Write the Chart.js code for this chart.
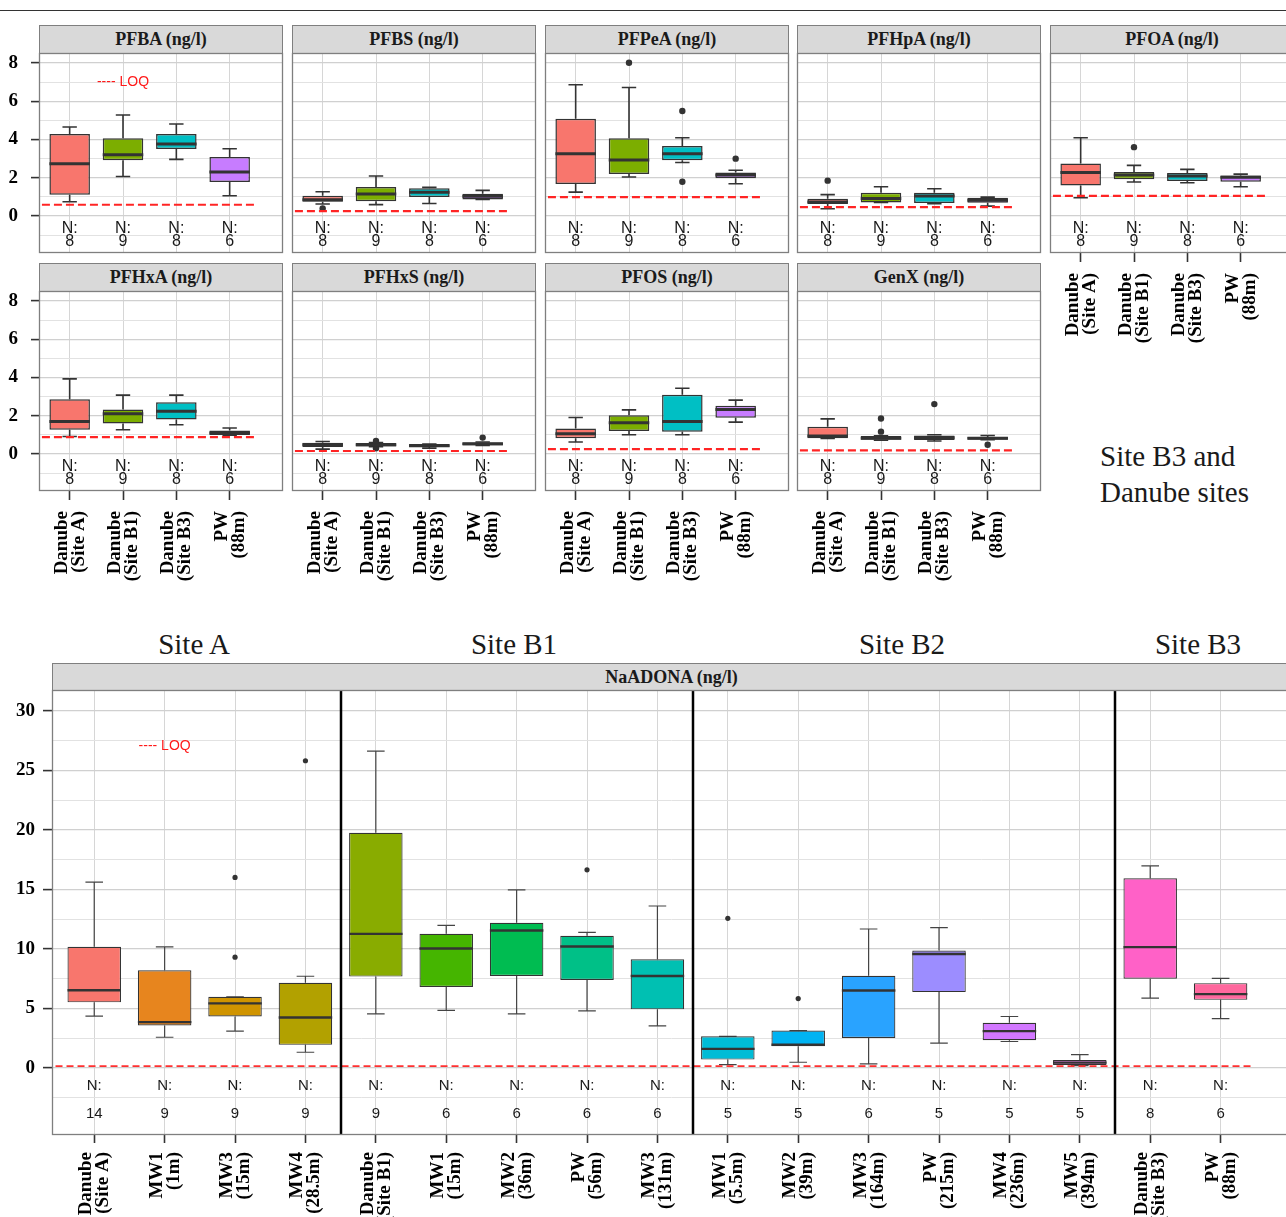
<!DOCTYPE html>
<html>
<head>
<meta charset="utf-8">
<title>PFAS concentrations by sampling point</title>
<script src="https://cdn.jsdelivr.net/npm/chart.js@4.4.1/dist/chart.umd.min.js"></script>
<style>
  html, body { margin: 0; padding: 0; background: #fff; }
  #page { position: relative; width: 1286px; height: 1217px; overflow: hidden; background: #fff; }
  #page canvas { position: absolute; }
  .strip { position: absolute; box-sizing: border-box; background: #d9d9d9; border: 1px solid #7f7f7f;
           font: bold 18px "Liberation Serif", "Times New Roman", serif; color: #1a1a1a;
           display: flex; align-items: center; justify-content: center; white-space: nowrap; }
  .site { position: absolute; font: 29px "Liberation Serif", "Times New Roman", serif; color: #1a1a1a;
          line-height: 29px; transform: translateX(-50%); white-space: nowrap; }
  .note { position: absolute; font: 29px "Liberation Serif", "Times New Roman", serif; color: #1a1a1a;
          line-height: 36px; white-space: nowrap; }
  .rule { position: absolute; left: 0; top: 10px; width: 1286px; height: 1px; background: #333; }
</style>
</head>
<body>
<div id="page"><div class="rule"></div></div>
<script>
// ---------- Danube sites and PW (88m): box statistics ----------
// each row: [lower whisker, Q1, median, Q3, upper whisker]
const TOP_GROUPS = [['Danube', '(Site A)'], ['Danube', '(Site B1)'], ['Danube', '(Site B3)'], ['PW', '(88m)']];
const TOP_N = [8, 9, 8, 6];
const TOP_COLORS = ['#F8766D', '#7CAE00', '#00BFC4', '#C77CFF'];

const PFBA  = [[0.75, 1.11, 2.73, 4.29, 4.65], [2.07, 2.91, 3.20, 4.06, 5.28], [2.96, 3.50, 3.76, 4.29, 4.81], [1.06, 1.78, 2.30, 3.08, 3.52]];
const PFBS  = [[0.63, 0.75, 0.85, 1.06, 1.27], [0.60, 0.77, 1.15, 1.52, 2.09], [0.66, 0.99, 1.24, 1.45, 1.50], [0.87, 0.87, 1.03, 1.17, 1.34]];
const PFPeA = [[1.25, 1.67, 3.26, 5.09, 6.86], [2.04, 2.20, 2.93, 4.06, 6.72], [2.80, 2.91, 3.26, 3.66, 4.09], [1.69, 1.97, 2.14, 2.28, 2.39]];
const PFHpA = [[0.38, 0.63, 0.73, 0.90, 1.12], [0.71, 0.71, 0.92, 1.22, 1.53], [0.64, 0.68, 1.05, 1.22, 1.43], [0.52, 0.70, 0.82, 0.96, 0.99]];
const PFOA  = [[0.96, 1.60, 2.27, 2.75, 4.09], [1.78, 1.92, 2.14, 2.30, 2.65], [1.74, 1.83, 2.09, 2.25, 2.44], [1.53, 1.79, 2.03, 2.12, 2.19]];
const PFHxA = [[0.92, 1.27, 1.70, 2.87, 3.93], [1.27, 1.60, 2.10, 2.33, 3.08], [1.53, 1.81, 2.24, 2.71, 3.08], [0.99, 0.99, 1.10, 1.23, 1.36]];
const PFHxS = [[0.26, 0.37, 0.49, 0.59, 0.66], [0.38, 0.40, 0.49, 0.58, 0.60], [0.31, 0.37, 0.43, 0.52, 0.52], [0.45, 0.45, 0.54, 0.61, 0.63]];
const PFOS  = [[0.63, 0.82, 1.06, 1.34, 1.91], [1.01, 1.20, 1.63, 2.03, 2.31], [1.01, 1.17, 1.70, 3.10, 3.44], [1.67, 1.90, 2.33, 2.52, 2.82]];
const GenX  = [[0.82, 0.82, 0.94, 1.43, 1.84], [0.72, 0.75, 0.83, 0.94, 0.95], [0.68, 0.73, 0.85, 0.97, 1.01], [0.75, 0.75, 0.83, 0.89, 0.97]];

// outlying values per group
const PFBA_OUT  = [[], [], [], []];
const PFBS_OUT  = [[0.40], [], [], []];
const PFPeA_OUT = [[], [8.01], [5.49, 1.79], [3.00]];
const PFHpA_OUT = [[1.85], [], [], []];
const PFOA_OUT  = [[], [3.60], [], []];
const PFHxA_OUT = [[], [], [], []];
const PFHxS_OUT = [[], [0.68, 0.30], [], [0.86]];
const PFOS_OUT  = [[], [], [], []];
const GenX_OUT  = [[], [1.86, 1.17], [2.61], [0.49]];

const TOP_NAMES = ['PFBA (ng/l)', 'PFBS (ng/l)', 'PFPeA (ng/l)', 'PFHpA (ng/l)', 'PFOA (ng/l)',
                   'PFHxA (ng/l)', 'PFHxS (ng/l)', 'PFOS (ng/l)', 'GenX (ng/l)'];
const TOP_LOQ = [0.59, 0.26, 0.99, 0.47, 1.05, 0.89, 0.16, 0.26, 0.19];
const TOP_STATS = [PFBA, PFBS, PFPeA, PFHpA, PFOA, PFHxA, PFHxS, PFOS, GenX];
const TOP_OUTLIERS = [PFBA_OUT, PFBS_OUT, PFPeA_OUT, PFHpA_OUT, PFOA_OUT, PFHxA_OUT, PFHxS_OUT, PFOS_OUT, GenX_OUT];
const TOP_Y_LABELS = [0, 2, 4, 6, 8];
const TOP_Y_GRID = [-1, 0, 1, 2, 3, 4, 5, 6, 7, 8];

// ---------- NaADONA at all sampling points ----------
const NA_GROUPS = [
  ['Danube', '(Site A)'], ['MW1', '(1m)'], ['MW3', '(15m)'], ['MW4', '(28.5m)'],
  ['Danube', '(Site B1)'], ['MW1', '(15m)'], ['MW2', '(36m)'], ['PW', '(56m)'], ['MW3', '(131m)'],
  ['MW1', '(5.5m)'], ['MW2', '(39m)'], ['MW3', '(164m)'], ['PW', '(215m)'], ['MW4', '(236m)'], ['MW5', '(394m)'],
  ['Danube', '(Site B3)'], ['PW', '(88m)']
];
const NA_N = [14, 9, 9, 9, 9, 6, 6, 6, 6, 5, 5, 6, 5, 5, 5, 8, 6];
const NA_COLORS = ['#F8766D', '#E7851E', '#D09400', '#B2A100', '#89AC00', '#45B500', '#00BC51', '#00C087', '#00C0B2',
                   '#00BCD6', '#00B3F2', '#29A3FF', '#9C8DFF', '#D277FF', '#F166E8', '#FF61C7', '#FF689E'];
const NaADONA = [
  [4.35, 5.51, 6.52, 10.17, 15.60], [2.58, 3.57, 3.85, 8.20, 10.17], [3.09, 4.33, 5.42, 5.98, 5.98], [1.32, 1.94, 4.24, 7.16, 7.70],
  [4.55, 7.67, 11.26, 19.75, 26.60], [4.83, 6.80, 10.03, 11.26, 11.97], [4.55, 7.72, 11.54, 12.19, 14.96], [4.80, 7.39, 10.20, 11.10, 11.38], [3.54, 4.92, 7.72, 9.13, 13.60],
  [0.28, 0.70, 1.60, 2.66, 2.66], [0.48, 1.82, 1.95, 3.14, 3.14], [0.34, 2.52, 6.51, 7.74, 11.67], [2.08, 6.37, 9.57, 9.87, 11.78], [2.22, 2.33, 3.09, 3.79, 4.32], [0.20, 0.25, 0.45, 0.67, 1.12],
  [5.86, 7.49, 10.15, 15.93, 16.97], [4.15, 5.72, 6.20, 7.12, 7.52]
];
const NaADONA_OUT = [[], [], [9.30, 16.00], [25.80], [], [], [], [16.64], [], [12.57], [5.83], [], [], [], [], [], []];
const NA_LOQ = 0.15;
const NA_SITES = ['Site A', 'Site B1', 'Site B2', 'Site B3'];
const NA_SITE_BREAKS = [3.5, 8.5, 14.5];
const NA_Y_LABELS = [0, 5, 10, 15, 20, 25, 30];
const NA_Y_GRID = [-2.5, 0, 2.5, 5, 7.5, 10, 12.5, 15, 17.5, 20, 22.5, 25, 27.5, 30];

// ---------- drawing ----------
Chart.defaults.font.family = '"Liberation Serif", "Times New Roman", serif';
const page = document.getElementById('page');
const SERIF = '"Liberation Serif", "Times New Roman", serif';
const SANS = '"Liberation Sans", Arial, sans-serif';

function addDiv(cls, text, css) {
  const d = document.createElement('div');
  d.className = cls;
  d.innerHTML = text;
  Object.assign(d.style, css);
  page.appendChild(d);
  return d;
}

function boxPlugin(cfg) {
  return {
    id: 'boxplot',
    beforeDatasetsDraw(chart) {
      const ctx = chart.ctx, xs = chart.scales.x, ys = chart.scales.y;
      ctx.save();
      ctx.strokeStyle = cfg.whiskerColor;
      ctx.lineWidth = cfg.whiskerWidth;
      cfg.stats.forEach((s, i) => {
        const px = xs.getPixelForValue(i);
        const half = xs.getPixelForValue(i + cfg.capWidth / 2) - px;
        const pLow = ys.getPixelForValue(s[0]), pQ1 = ys.getPixelForValue(s[1]);
        const pQ3 = ys.getPixelForValue(s[3]), pHigh = ys.getPixelForValue(s[4]);
        ctx.beginPath();
        ctx.moveTo(px, pLow); ctx.lineTo(px, pQ1);
        ctx.moveTo(px, pQ3); ctx.lineTo(px, pHigh);
        ctx.moveTo(px - half, pLow); ctx.lineTo(px + half, pLow);
        ctx.moveTo(px - half, pHigh); ctx.lineTo(px + half, pHigh);
        ctx.stroke();
      });
      ctx.restore();
    },
    afterDatasetsDraw(chart) {
      const ctx = chart.ctx, xs = chart.scales.x, ys = chart.scales.y, area = chart.chartArea;
      ctx.save();
      // medians across each box
      ctx.strokeStyle = '#333';
      ctx.lineWidth = cfg.medianWidth;
      chart.getDatasetMeta(0).data.forEach((bar, i) => {
        const py = ys.getPixelForValue(cfg.stats[i][2]);
        ctx.beginPath();
        ctx.moveTo(bar.x - bar.width / 2, py);
        ctx.lineTo(bar.x + bar.width / 2, py);
        ctx.stroke();
      });
      // limit of quantification
      const ly = ys.getPixelForValue(cfg.loq);
      ctx.strokeStyle = cfg.loqColor;
      ctx.lineWidth = cfg.loqWidth;
      ctx.setLineDash(cfg.loqDash);
      ctx.beginPath();
      ctx.moveTo(xs.getPixelForValue(cfg.loqFrom), ly);
      ctx.lineTo(xs.getPixelForValue(cfg.loqTo), ly);
      ctx.stroke();
      ctx.setLineDash([]);
      ctx.textAlign = 'center';
      ctx.textBaseline = 'middle';
      if (cfg.loqLabel) {
        ctx.fillStyle = '#ff1a1a';
        ctx.font = '14px ' + SANS;
        ctx.fillText('---- LOQ', xs.getPixelForValue(cfg.loqLabel[0]), ys.getPixelForValue(cfg.loqLabel[1]));
      }
      // sample counts
      ctx.fillStyle = '#1a1a1a';
      ctx.font = cfg.nFont;
      cfg.counts.forEach((n, i) => {
        const px = xs.getPixelForValue(i);
        ctx.fillText('N:', px, ys.getPixelForValue(cfg.nAt));
        ctx.fillText(String(n), px, ys.getPixelForValue(cfg.countAt));
      });
      // site separators
      ctx.strokeStyle = '#000';
      ctx.lineWidth = 2.5;
      (cfg.separators || []).forEach(v => {
        const px = Math.round(xs.getPixelForValue(v));
        ctx.beginPath();
        ctx.moveTo(px, area.top);
        ctx.lineTo(px, area.bottom);
        ctx.stroke();
      });
      ctx.restore();
    },
    afterDraw(chart) {
      const a = chart.chartArea, ctx = chart.ctx;
      ctx.save();
      ctx.strokeStyle = '#7f7f7f';
      ctx.lineWidth = 1.3;
      ctx.strokeRect(a.left + 0.5, a.top + 0.5, a.right - a.left - 1, a.bottom - a.top - 1);
      ctx.restore();
    }
  };
}

function boxChart(cfg) {
  const PAD = 4;
  const canvas = document.createElement('canvas');
  const cw = cfg.yAxisW + cfg.width + 2 * PAD;
  const ch = cfg.height + cfg.xAxisH + 2 * PAD;
  canvas.width = cw; canvas.height = ch;
  Object.assign(canvas.style, {
    left: (cfg.left - cfg.yAxisW - PAD) + 'px', top: (cfg.top - PAD) + 'px',
    width: cw + 'px', height: ch + 'px'
  });
  page.appendChild(canvas);

  const boxes = cfg.stats.map((s, i) => ({ x: i, y: [s[1], s[3]] }));
  const dots = [];
  cfg.outliers.forEach((vals, i) => vals.forEach(v => dots.push({ x: i, y: v })));
  const isMajor = v => cfg.yLabels.includes(v);
  const zeroPad = s => { s.paddingLeft = 0; s.paddingRight = 0; s.paddingTop = 0; s.paddingBottom = 0; };

  return new Chart(canvas, {
    type: 'bar',
    data: {
      datasets: [
        { type: 'bar', data: boxes, backgroundColor: cfg.colors, borderColor: '#333',
          borderWidth: cfg.boxLine, borderSkipped: false, barPercentage: 0.76, categoryPercentage: 1 },
        { type: 'scatter', data: dots, pointRadius: cfg.dotRadius, pointBackgroundColor: '#333',
          pointBorderWidth: 0, pointHoverRadius: cfg.dotRadius }
      ]
    },
    options: {
      responsive: false, animation: false, devicePixelRatio: 1, events: [],
      layout: { padding: { left: PAD, right: PAD, top: PAD, bottom: PAD } },
      plugins: { legend: { display: false }, tooltip: { enabled: false } },
      scales: {
        x: {
          type: 'linear', min: cfg.xMin, max: cfg.xMax, offset: false,
          afterBuildTicks: s => { s.ticks = cfg.labels.map((_, i) => ({ value: i })); },
          afterFit: s => { s.height = cfg.xAxisH; zeroPad(s); },
          border: { display: false },
          grid: { offset: false, color: '#d6d6d6', lineWidth: 1, drawTicks: cfg.showX,
                  tickLength: cfg.tickLen, tickColor: '#333', tickWidth: 1.6 },
          ticks: { display: cfg.showX, autoSkip: false, minRotation: 90, maxRotation: 90,
                   padding: cfg.xPad, labelOffset: -8, color: '#000',
                   font: { family: SERIF, size: cfg.xFont, weight: 'bold', lineHeight: 0.9 },
                   callback: (v, i) => cfg.labels[i] }
        },
        y: {
          type: 'linear', min: cfg.yMin, max: cfg.yMax,
          afterBuildTicks: s => { s.ticks = cfg.yGrid.map(v => ({ value: v })); },
          afterFit: s => { s.width = cfg.yAxisW; zeroPad(s); },
          border: { display: false },
          grid: { color: c => isMajor(c.tick.value) ? '#d0d0d0' : '#e2e2e2',
                  lineWidth: c => isMajor(c.tick.value) ? 1.2 : 1,
                  drawTicks: cfg.showY, tickLength: cfg.yTickLen,
                  tickColor: c => isMajor(c.tick.value) ? '#333' : 'rgba(0,0,0,0)', tickWidth: 1.6 },
          ticks: { display: cfg.showY, autoSkip: false, padding: cfg.yPad, color: '#000',
                   font: { family: SERIF, size: 19, weight: 'bold' },
                   callback: v => isMajor(v) ? String(v) : '' }
        }
      }
    },
    plugins: [boxPlugin(cfg)]
  });
}

// ---------- facet grid of the Danube panels ----------
const COL_LEFT = [39, 292, 545, 797, 1050];
const ROW_TOP = [53, 291];
TOP_NAMES.forEach((name, k) => {
  const row = k < 5 ? 0 : 1;
  const col = k < 5 ? k : k - 5;
  const left = COL_LEFT[col], top = ROW_TOP[row];
  const showX = row === 1 || col === 4;
  const showY = col === 0;
  addDiv('strip', name, { left: left + 'px', top: (top - 28) + 'px', width: '244px', height: '29px' });
  boxChart({
    left, top, width: 244, height: 200,
    yAxisW: showY ? 39 : 0, xAxisH: showX ? 110 : 0,
    xMin: -0.575, xMax: 4.0, yMin: -1.93, yMax: 8.52,
    yGrid: TOP_Y_GRID, yLabels: TOP_Y_LABELS,
    showX, showY, tickLen: 9, xPad: 11, xFont: 19, yTickLen: 8, yPad: 13,
    labels: TOP_GROUPS, stats: TOP_STATS[k], outliers: TOP_OUTLIERS[k],
    colors: TOP_COLORS, counts: TOP_N,
    boxLine: 1.5, medianWidth: 3, whiskerColor: '#333', whiskerWidth: 1.6, capWidth: 0.27, dotRadius: 3.2,
    loq: TOP_LOQ[k], loqFrom: -0.52, loqTo: 3.47, loqColor: '#ff2424', loqWidth: 2.2, loqDash: [8, 4],
    loqLabel: k === 0 ? [1, 7] : null,
    nFont: '16px ' + SANS, nAt: -0.63, countAt: -1.33
  });
});
addDiv('note', 'Site B3 and<br>Danube sites', { left: '1100px', top: '438px' });

// ---------- NaADONA across all sampling points ----------
const NA_SITE_X = [194, 514, 902, 1198];
NA_SITES.forEach((s, i) => addDiv('site', s, { left: NA_SITE_X[i] + 'px', top: '630px' }));
addDiv('strip', 'NaADONA (ng/l)', { left: '52px', top: '663px', width: '1239px', height: '28px' });
boxChart({
  left: 52, top: 690, width: 1239, height: 445,
  yAxisW: 52, xAxisH: 90,
  xMin: -0.6, xMax: 17, yMin: -5.63, yMax: 31.74,
  yGrid: NA_Y_GRID, yLabels: NA_Y_LABELS,
  showX: true, showY: true, tickLen: 8, xPad: 9, xFont: 19, yTickLen: 9, yPad: 8,
  labels: NA_GROUPS, stats: NaADONA, outliers: NaADONA_OUT,
  colors: NA_COLORS, counts: NA_N,
  boxLine: 1.2, medianWidth: 2.4, whiskerColor: '#444', whiskerWidth: 1.2, capWidth: 0.25, dotRadius: 2.6,
  loq: NA_LOQ, loqFrom: -0.55, loqTo: 16.45, loqColor: '#ff3030', loqWidth: 1.6, loqDash: [7, 4],
  loqLabel: [1, 27],
  nFont: '15px ' + SANS, nAt: -1.51, countAt: -3.86,
  separators: NA_SITE_BREAKS
});
</script>
</body>
</html>
